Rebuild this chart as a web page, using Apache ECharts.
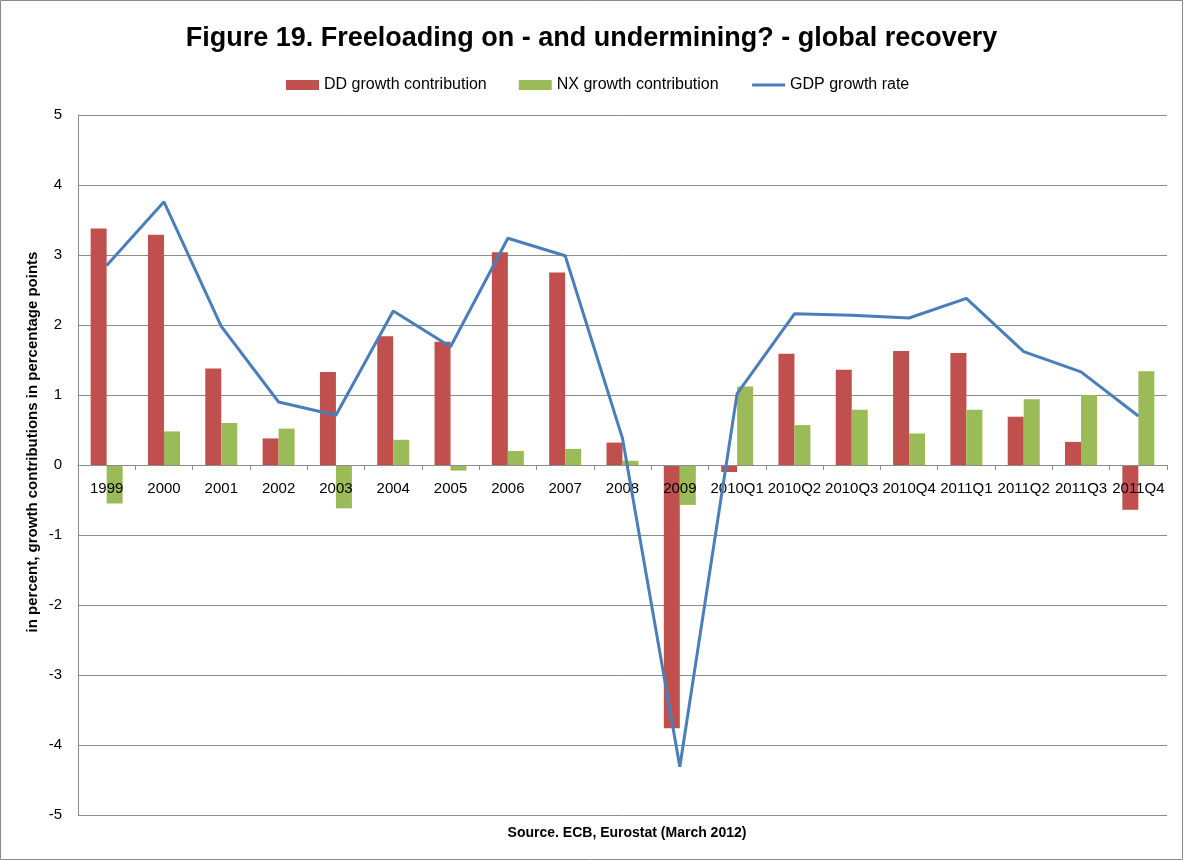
<!DOCTYPE html>
<html>
<head>
<meta charset="utf-8">
<script src="https://cdn.jsdelivr.net/npm/echarts@6/dist/echarts.min.js"></script>
<style>
  html, body { margin: 0; padding: 0; background: #fff; }
  #chart { width: 1183px; height: 860px; }
</style>
</head>
<body>
<div id="chart"></div>
<script>
// categories and values
const periods = ['1999', '2000', '2001', '2002', '2003', '2004', '2005', '2006', '2007', '2008', '2009',
  '2010Q1', '2010Q2', '2010Q3', '2010Q4', '2011Q1', '2011Q2', '2011Q3', '2011Q4'];
const ddContribution = [3.38, 3.29, 1.38, 0.38, 1.33, 1.84, 1.76, 3.04, 2.75, 0.32, -3.76,
  -0.10, 1.59, 1.36, 1.63, 1.60, 0.69, 0.33, -0.64];
const nxContribution = [-0.55, 0.48, 0.60, 0.52, -0.62, 0.36, -0.08, 0.20, 0.23, 0.06, -0.57,
  1.12, 0.57, 0.79, 0.45, 0.79, 0.94, 1.00, 1.34];
const gdpGrowth = [2.85, 3.76, 1.98, 0.90, 0.71, 2.20, 1.69, 3.24, 2.99, 0.38, -4.31,
  1.02, 2.16, 2.14, 2.10, 2.38, 1.62, 1.33, 0.70];

const chart = echarts.init(document.getElementById('chart'));
const sans = '"Liberation Sans", Arial, sans-serif';
const gridCol = '#8c8c8c';

chart.setOption({
  backgroundColor: '#fff',
  animation: false,
  title: [
    {
      text: 'Figure 19. Freeloading on - and undermining? - global recovery',
      left: 'center',
      top: 20,
      textStyle: { fontFamily: sans, fontSize: 27, fontWeight: 'bold', color: '#000' }
    },
    {
      text: 'Source. ECB, Eurostat (March 2012)',
      left: 622,
      textAlign: 'center',
      top: 821,
      textStyle: { fontFamily: sans, fontSize: 14, fontWeight: 'bold', color: '#000' }
    }
  ],
  legend: {
    top: 72,
    left: 281,
    itemWidth: 33,
    itemHeight: 10,
    itemGap: 32,
    textStyle: { fontFamily: sans, fontSize: 16, color: '#000' },
    data: [
      { name: 'DD growth contribution', icon: 'rect' },
      { name: 'NX growth contribution', icon: 'rect' },
      { name: 'GDP growth rate', lineStyle: { width: 3 } }
    ]
  },
  grid: { left: 78, right: 16, top: 115, bottom: 45 },
  xAxis: {
    type: 'category',
    data: periods,
    z: 4,
    // axis sits at the zero line; 5 units * 70px below it is the grid bottom
    offset: -350,
    axisLine: { onZero: false, lineStyle: { color: gridCol } },
    axisTick: { show: true, length: 5, lineStyle: { color: gridCol } },
    axisLabel: { interval: 0, margin: 16, fontFamily: sans, fontSize: 15, color: '#000' }
  },
  yAxis: {
    type: 'value',
    min: -5,
    max: 5,
    interval: 1,
    axisLine: { show: true, lineStyle: { color: gridCol } },
    axisTick: { show: false },
    splitLine: { lineStyle: { color: gridCol, width: 1 } },
    axisLabel: { margin: 16, fontFamily: sans, fontSize: 15, color: '#000' }
  },
  graphic: [
    {
      type: 'rect',
      shape: { x: 0.5, y: 0.5, width: 1182, height: 859 },
      style: { fill: 'none', stroke: '#888', lineWidth: 1 }
    },
    {
      type: 'text',
      x: 33,
      y: 442,
      rotation: Math.PI / 2,
      style: {
        text: 'in percent, growth contributions in percentage points',
        fontFamily: sans,
        fontSize: 15,
        fontWeight: 'bold',
        fill: '#000',
        textAlign: 'center',
        textVerticalAlign: 'middle'
      }
    }
  ],
  series: [
    {
      name: 'DD growth contribution',
      type: 'bar',
      data: ddContribution,
      barWidth: 16,
      barGap: '0%',
      itemStyle: { color: '#C0504D' }
    },
    {
      name: 'NX growth contribution',
      type: 'bar',
      data: nxContribution,
      barWidth: 16,
      itemStyle: { color: '#9BBB59' }
    },
    {
      name: 'GDP growth rate',
      type: 'line',
      data: gdpGrowth,
      symbol: 'none',
      lineStyle: { color: '#4A7EBB', width: 3 },
      itemStyle: { color: 'rgba(0,0,0,0)', borderWidth: 0 },
      z: 5
    }
  ]
});
</script>
</body>
</html>
